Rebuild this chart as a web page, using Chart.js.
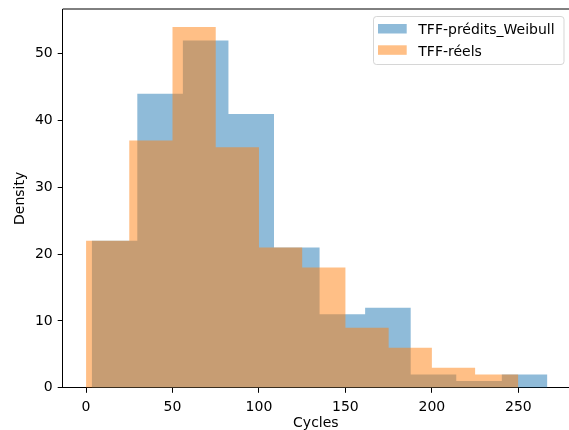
<!DOCTYPE html>
<html>
<head>
<meta charset="utf-8">
<script src="https://cdn.jsdelivr.net/npm/chart.js@4.4.1/dist/chart.umd.min.js"></script>
<style>
html, body { margin:0; padding:0; background:#fff; overflow:hidden; }
#wrap { width:569px; height:430px; }
</style>
</head>
<body>
<div id="wrap"><canvas id="histChart" width="569" height="430"></canvas></div>
<script>

// histogram bins
const predEdges = [3.3, 29.65, 56.0, 82.35, 108.7, 135.05, 161.4, 187.75, 214.1, 240.45, 266.8];
const predCounts = [22, 44, 52, 41, 21, 11, 12, 2, 1, 2];

const realEdges = [0, 25, 50, 75, 100, 125, 150, 175, 200, 225, 250];
const realCounts = [22, 37, 54, 36, 21, 18, 9, 6, 3, 2];

const seriesNames = ["TFF-prédits_Weibull", "TFF-réels"];
const seriesColors = ["rgba(31,119,180,0.5)", "rgba(255,127,14,0.5)"];

const xTicks = [0, 50, 100, 150, 200, 250];
const yTicks = [0, 10, 20, 30, 40, 50];

const FONT = "'DejaVu Sans', sans-serif";

// turn edges + counts into a step outline
function stepPoints(edges, counts){
  let pts = [];
  for(let i = 0; i < counts.length; i++){
    pts.push({x: edges[i], y: counts[i]});
  }
  pts.push({x: edges[edges.length-1], y: counts[counts.length-1]});
  return pts;
}

function histDataset(name, color, edges, counts){
  return {
    label: name,
    data: stepPoints(edges, counts),
    stepped: 'before',
    fill: 'origin',
    backgroundColor: color,
    borderWidth: 0,
    borderColor: 'rgba(0,0,0,0)',
    pointRadius: 0
  };
}

// top spine + matplotlib-like legend box
const framePlugin = {
  id: 'frame',
  afterDraw(chart){
    const ctx = chart.ctx;
    const a = chart.chartArea;
    ctx.save();
    ctx.strokeStyle = '#000';
    ctx.lineWidth = 1;
    ctx.beginPath();
    ctx.moveTo(a.left, a.top);
    ctx.lineTo(a.right, a.top);
    ctx.stroke();

    // legend
    const bx = 373.5, by = 16.5, bw = 190.5, bh = 48;
    ctx.fillStyle = 'rgba(255,255,255,0.8)';
    ctx.strokeStyle = 'rgba(204,204,204,0.8)';
    ctx.beginPath();
    ctx.roundRect(bx, by, bw, bh, 3);
    ctx.fill();
    ctx.stroke();

    ctx.font = '14px ' + FONT;
    ctx.textBaseline = 'alphabetic';
    ctx.textAlign = 'left';
    for(let i = 0; i < seriesNames.length; i++){
      let rowY = 24 + i * 21.3;
      ctx.fillStyle = seriesColors[i];
      ctx.fillRect(378, rowY, 28.7, 9.5);
      ctx.fillStyle = '#000';
      ctx.fillText(seriesNames[i], 418.3, rowY + 10.3);
    }
    ctx.restore();
  }
};

const axisFont = {family: FONT, size: 14};

const ctx = document.getElementById('histChart').getContext('2d');

// orange first so it is painted over the blue one
let histChart = new Chart(ctx, {
  type: 'line',
  data: {
    datasets: [
      histDataset(seriesNames[1], seriesColors[1], realEdges, realCounts),
      histDataset(seriesNames[0], seriesColors[0], predEdges, predCounts)
    ]
  },
  options: {
    responsive: false,
    animation: false,
    layout: { padding: {top: 9, left: 0, right: 0, bottom: 0} },
    plugins: {
      legend: { display: false },
      tooltip: { enabled: false }
    },
    scales: {
      x: {
        type: 'linear',
        min: -13.5,
        max: 279.3,
        afterBuildTicks: function(s){ s.ticks = xTicks.map(v => ({value: v})); },
        afterFit: function(s){ s.height = 42.2; s.paddingLeft = 0; s.paddingRight = 0; },
        grid: { display: true, drawOnChartArea: false, drawTicks: true, tickLength: 5, color: '#000' },
        border: { display: true, color: '#000', width: 1 },
        ticks: { color: '#000', font: axisFont, padding: 6, maxRotation: 0, autoSkip: false },
        title: { display: true, text: 'Cycles', color: '#000', font: {family: FONT, size: 14, lineHeight: 1}, padding: {top: 0, bottom: 0} }
      },
      y: {
        min: 0,
        max: 56.7,
        afterBuildTicks: function(s){ s.ticks = yTicks.map(v => ({value: v})); },
        afterFit: function(s){ s.width = 62.7; s.paddingTop = 0; s.paddingBottom = 0; },
        grid: { display: true, drawOnChartArea: false, drawTicks: true, tickLength: 5, color: '#000' },
        border: { display: true, color: '#000', width: 1 },
        ticks: { color: '#000', font: axisFont, padding: 5 },
        title: { display: true, text: 'Density', color: '#000', font: {family: FONT, size: 14, lineHeight: 1}, padding: {top: 13, bottom: 0} }
      }
    }
  },
  plugins: [framePlugin]
});

</script>
</body>
</html>
